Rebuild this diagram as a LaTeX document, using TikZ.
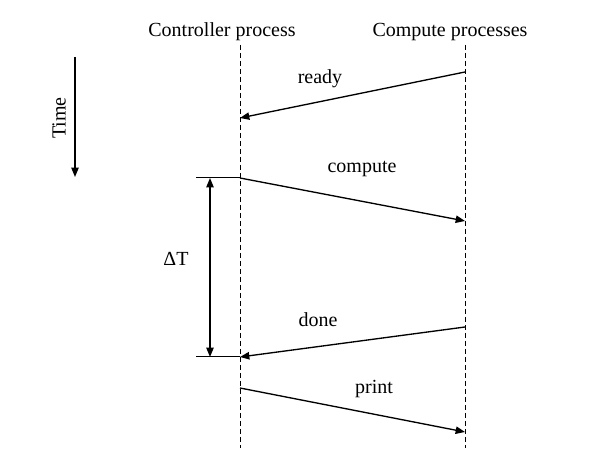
\documentclass[tikz,border=0pt]{standalone}
\usepackage{fontspec}
\setmainfont{Liberation Serif}
\usetikzlibrary{arrows.meta,positioning}

\begin{document}
\begin{tikzpicture}[
    x=0.75pt, y=-0.75pt,
    lbl/.style={font=\fontsize{15}{17}\selectfont, inner sep=1pt},
    life/.style={line width=0.75pt, dash pattern=on 3.5pt off 2.5pt},
    msg/.style={-{Triangle[length=7pt,width=5.5pt]}, line width=1pt},
    tick/.style={line width=0.75pt}
]
\useasboundingbox (0,0) rectangle (597,452);
% lifelines
\coordinate (ctop) at (240,45);
\coordinate (cbot) at (240,448);
\coordinate (ptop) at (465,45);
\coordinate (pbot) at (465,448);
\draw[life] (ctop) -- (cbot);
\draw[life] (ptop) -- (pbot);
\node[lbl] (ctrl) at (222,32) {Controller process};
\node[lbl] (comp) at (450,32) {Compute processes};

% time axis
\coordinate (t0) at (75,57);
\coordinate (t1) at (75,177);
\draw[msg] (t0) -- (t1);
\node[lbl, rotate=90] (time) at (59,118) {Time};

% messages
\coordinate (r0) at (465,72);
\coordinate (r1) at (240,118);
\coordinate (c0) at (240,178);
\coordinate (c1) at (465,221);
\coordinate (d0) at (465,327);
\coordinate (d1) at (240,357);
\coordinate (p0) at (240,388);
\coordinate (p1) at (465,432);
\draw[msg] (r0) -- (r1);
\draw[msg] (c0) -- (c1);
\draw[msg] (d0) -- (d1);
\draw[msg] (p0) -- (p1);
\node[lbl] (ready) at (320,79) {ready};
\node[lbl] (cmp) at (362,169) {compute};
\node[lbl] (done) at (318,320) {done};
\node[lbl] (print) at (374,389) {print};

% interval
\coordinate (a0) at (196,178);
\coordinate (a1) at (196,357);
\coordinate (m0) at (210,178);
\coordinate (m1) at (210,357);
\draw[tick] (a0) -- (c0);
\draw[tick] (a1) -- (d1);
\draw[msg, {Triangle[length=7pt,width=5.5pt]}-{Triangle[length=7pt,width=5.5pt]}] (m0) -- (m1);
\node[lbl] (dt) at (176,259) {ΔT};
\end{tikzpicture}
\end{document}
